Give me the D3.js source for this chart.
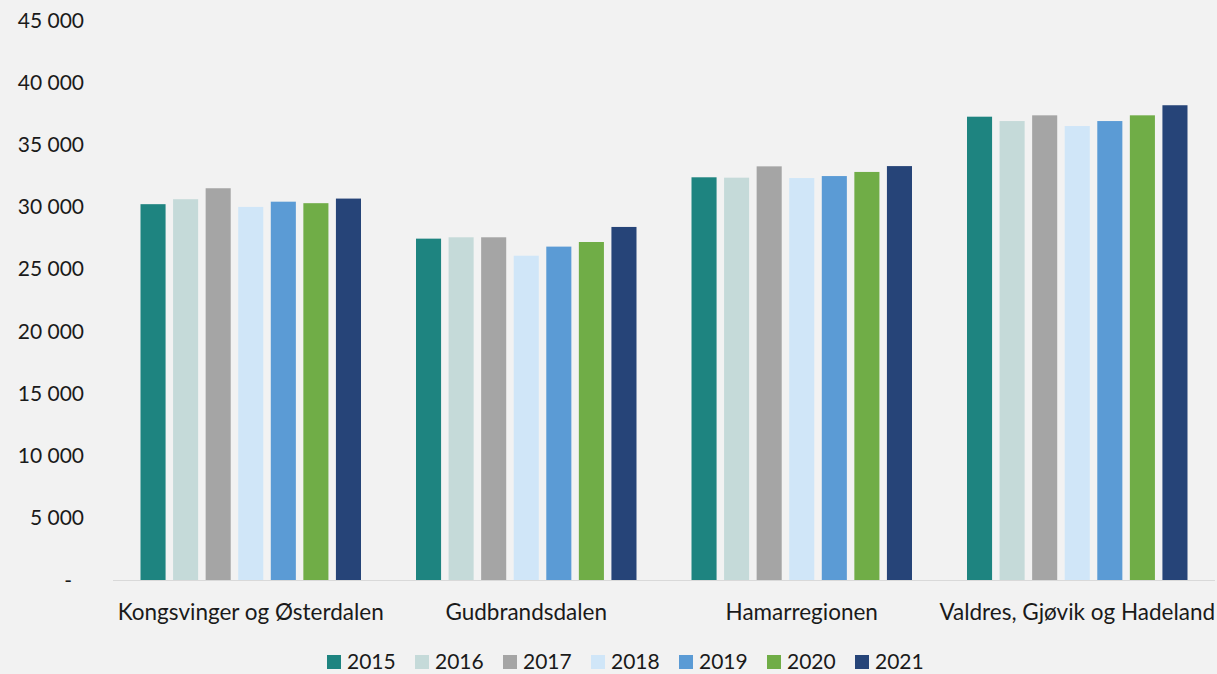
<!DOCTYPE html>
<html>
<head>
<meta charset="utf-8">
<script src="https://cdn.jsdelivr.net/npm/d3@7"></script>
<style>
  html, body { margin: 0; padding: 0; background: #f2f2f2; }
  svg { display: block; font-family: Lato, "Open Sans", sans-serif; }
</style>
</head>
<body>
<div id="chart"></div>
<script>
var regions = ["Kongsvinger og Østerdalen", "Gudbrandsdalen", "Hamarregionen", "Valdres, Gjøvik og Hadeland"];
var years = ["2015", "2016", "2017", "2018", "2019", "2020", "2021"];
var colors = ["#1e8480", "#c5dad9", "#a5a5a5", "#d0e6f8", "#5b9bd5", "#70ad47", "#264478"];

// one array per year, in region order
var v2015 = [30200, 27430, 32360, 37230];
var v2016 = [30600, 27540, 32330, 36880];
var v2017 = [31480, 27540, 33240, 37340];
var v2018 = [29980, 26060, 32300, 36480];
var v2019 = [30400, 26790, 32460, 36880];
var v2020 = [30280, 27160, 32790, 37340];
var v2021 = [30650, 28370, 33260, 38150];
var series = [v2015, v2016, v2017, v2018, v2019, v2020, v2021];

var yTicks = [0, 5000, 10000, 15000, 20000, 25000, 30000, 35000, 40000, 45000];

var W = 1217, H = 674;
var margin = { top: 20, right: 2, bottom: 94, left: 113 };
var width = W - margin.left - margin.right,
    height = H - margin.top - margin.bottom;

var svg = d3.select("#chart").append("svg")
    .attr("width", W)
    .attr("height", H);

var g = svg.append("g")
    .attr("transform", "translate(" + margin.left + "," + margin.top + ")");

var x0 = d3.scaleBand().domain(regions).range([0, width]).paddingInner(0).paddingOuter(0);
var x1 = d3.scaleBand().domain(years).range([27.5, x0.bandwidth() - 27.5])
    .paddingInner(0.23).paddingOuter(0);
var y = d3.scaleLinear().domain([0, 45000]).range([height, 0]);

var fmt = function(d) { return d === 0 ? "-" : d3.format(",")(d).replace(/,/g, " "); };

// y axis labels
g.append("g")
    .selectAll("text")
    .data(yTicks)
    .enter().append("text")
    .attr("x", function(d) { return d === 0 ? -41 : -29; })
    .attr("y", function(d) { return y(d) + 7.5; })
    .attr("text-anchor", "end")
    .attr("font-size", 21)
    .attr("fill", "#1a1a1a")
    .text(fmt);

// bars
var groups = g.selectAll(".grp")
    .data(regions)
    .enter().append("g")
    .attr("class", "grp")
    .attr("transform", function(d) { return "translate(" + x0(d) + ",0)"; });

groups.selectAll("rect")
    .data(function(r, i) { return years.map(function(yr, j) { return { year: yr, value: series[j][i], color: colors[j] }; }); })
    .enter().append("rect")
    .attr("x", function(d) { return x1(d.year); })
    .attr("y", function(d) { return y(d.value); })
    .attr("width", x1.bandwidth())
    .attr("height", function(d) { return height - y(d.value); })
    .attr("fill", function(d) { return d.color; });

// baseline
g.append("line")
    .attr("x1", 0).attr("x2", width)
    .attr("y1", height + 0.5).attr("y2", height + 0.5)
    .attr("stroke", "#d9d9d9")
    .attr("stroke-width", 1);

// x labels
g.append("g")
    .selectAll("text")
    .data(regions)
    .enter().append("text")
    .attr("x", function(d) { return x0(d) + x0.bandwidth() / 2; })
    .attr("y", height + 40)
    .attr("text-anchor", "middle")
    .attr("font-size", 22.5)
    .attr("fill", "#1a1a1a")
    .text(function(d) { return d; });

// legend
var legend = svg.append("g")
    .attr("transform", "translate(327,669)");

var items = legend.selectAll("g")
    .data(years)
    .enter().append("g")
    .attr("transform", function(d, i) { return "translate(" + (i * 88) + ",0)"; });

items.append("rect")
    .attr("x", 0).attr("y", -14)
    .attr("width", 14).attr("height", 14)
    .attr("fill", function(d, i) { return colors[i]; });

items.append("text")
    .attr("x", 20)
    .attr("y", 0)
    .attr("font-size", 21)
    .attr("fill", "#1a1a1a")
    .text(function(d) { return d; });
</script>
</body>
</html>
